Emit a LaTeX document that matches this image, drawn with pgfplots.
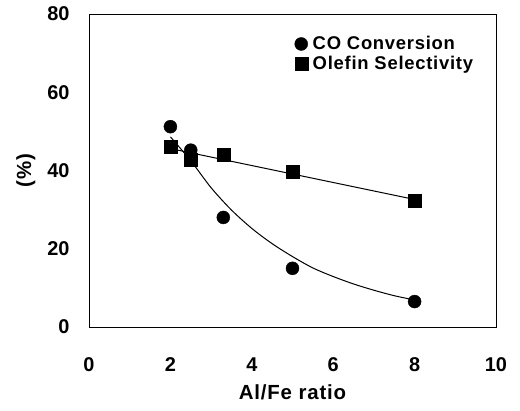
\documentclass[border=0pt]{standalone}
\usepackage{fontspec}
\setmainfont{Liberation Sans}
\newfontfamily\widefont[LetterSpace=4]{Liberation Sans}
\usepackage{pgfplots}
\pgfplotsset{compat=1.18}

\begin{document}
\begin{tikzpicture}
\begin{axis}[
    name=ax,
    width=407bp, height=313bp,
    scale only axis,
    xmin=0, xmax=10, ymin=0, ymax=80,
    xtick={0,2,...,10}, ytick={0,20,...,80},
    major tick length=0pt,
    axis line style={line width=0.8bp},
    /pgf/number format/assume math mode=true,
    ticklabel style={font=\bfseries\fontsize{20}{23}\selectfont},
    xticklabel style={yshift=-27bp},
    yticklabel style={xshift=-16bp},
    xlabel={Al/Fe ratio},
    ylabel={(\%)},
    label style={font=\widefont\bfseries\fontsize{20.5}{23}\selectfont},
    xlabel style={yshift=-6bp},
    ylabel style={yshift=5bp},
    legend style={draw=none, fill=none, at={(rel axis cs:0.505,0.935)}, anchor=north west,
        font=\widefont\bfseries\fontsize{18.5}{21}\selectfont, inner sep=0pt, row sep=1bp,
        column sep=3bp, legend cell align=left},
    clip=false,
]
% trend lines
\addplot[black, line width=1bp, smooth, forget plot] coordinates {
    (2,48.6) (2.5,42.5) (3,35.6) (3.5,29.9) (4,25.2) (4.5,21.3) (5,18.0)
    (5.5,15.1) (6,12.9) (6.5,11.0) (7,9.4) (7.5,8.0) (8,6.9)};
\addplot[black, line width=1bp, forget plot] coordinates {(2,45.6) (8,32.6)};
% data
\addplot[only marks, mark=*, mark size=6.5bp, black] coordinates {
    (2,51.2) (2.5,45.2) (3.3,28.0) (5,15.0) (8,6.5)};
\addlegendentry{CO Conversion}
\addplot[only marks, mark=square*, mark size=6.5bp, black] coordinates {
    (2,46.1) (2.5,42.7) (3.3,44.0) (5,39.7) (8,32.2)};
\addlegendentry{Olefin Selectivity}
\end{axis}
\pgfresetboundingbox
\path ([shift={(-89bp,-84bp)}]ax.south west) rectangle ([shift={(24bp,14bp)}]ax.north east);
\end{tikzpicture}
\end{document}
